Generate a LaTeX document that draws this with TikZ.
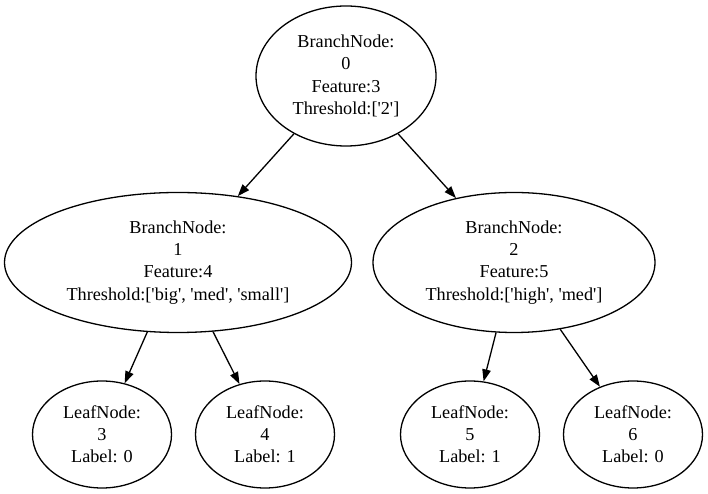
\documentclass[tikz,border=0pt]{standalone}
\usepackage{fontspec}
\setmainfont{Liberation Serif}[Ligatures=TeXOff]
\usetikzlibrary{shapes.geometric, arrows.meta}

\begin{document}
\begin{tikzpicture}[x=1pt, y=1pt, line width=1.3pt,
  branch/.style={draw, ellipse, inner sep=0pt, minimum width=#1, minimum height=140pt,
    align=center, font=\fontsize{18.2}{22.2}\selectfont},
  leaf/.style={draw, ellipse, inner sep=0pt, minimum width=139pt, minimum height=107pt,
    align=center, font=\fontsize{18.2}{22.2}\selectfont},
  link/.style={-{Triangle[length=12pt, width=8.5pt]}}]
  \useasboundingbox (0,0) rectangle (708,494);

  \node[branch=180pt] (B0) at (346,418) {BranchNode:\\0\\Feature:3\\Threshold:['2']};
  \node[branch=347pt] (B1) at (178,231.5) {BranchNode:\\1\\Feature:4\\Threshold:['big', 'med', 'small']};
  \node[branch=282pt] (B2) at (514,231.5) {BranchNode:\\2\\Feature:5\\Threshold:['high', 'med']};

  \node[leaf] (L3) at (102,59.5) {LeafNode:\\3\\Label: 0};
  \node[leaf] (L4) at (265,59.5) {LeafNode:\\4\\Label: 1};
  \node[leaf] (L5) at (470,59.5) {LeafNode:\\5\\Label: 1};
  \node[leaf] (L6) at (633,59.5) {LeafNode:\\6\\Label: 0};

  \draw[link] (B0) -- (B1);
  \draw[link] (B0) -- (B2);
  \draw[link] (B1) -- (L3);
  \draw[link] (B1) -- (L4);
  \draw[link] (B2) -- (L5);
  \draw[link] (B2) -- (L6);
\end{tikzpicture}
\end{document}
